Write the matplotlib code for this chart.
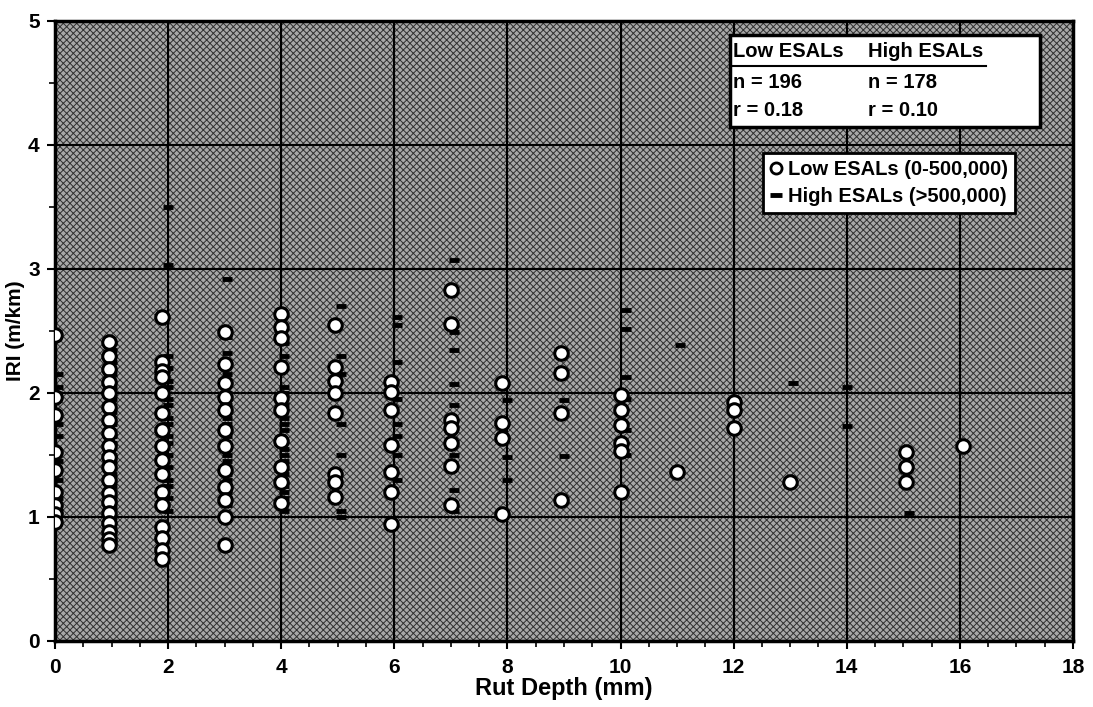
import numpy as np
import matplotlib
matplotlib.use("Agg")
import matplotlib.pyplot as plt
from matplotlib.patches import Rectangle
from matplotlib.lines import Line2D
from matplotlib.ticker import MultipleLocator

plt.rcParams['font.family'] = ['Liberation Sans Narrow', 'Liberation Sans', 'DejaVu Sans']
plt.rcParams['font.weight'] = 'bold'
plt.rcParams['hatch.linewidth'] = 0.7

# low ESALs (0-500,000): rut depth column -> IRI values
low_x = [0.0, 0.95, 1.9, 3.0, 4.0, 4.95, 5.95, 7.0, 7.9, 8.95, 10.0, 11.0, 12.0, 13.0, 15.05, 16.05]
low_iri = [
    [2.47, 1.97, 1.82, 1.52, 1.38, 1.2, 1.1, 1.02, 0.96],
    [2.41, 2.3, 2.19, 2.09, 2.0, 1.89, 1.78, 1.68, 1.57, 1.48, 1.4, 1.3, 1.19, 1.12, 1.03, 0.95, 0.88, 0.82, 0.77],
    [2.61, 2.25, 2.18, 2.13, 2.0, 1.84, 1.7, 1.57, 1.46, 1.35, 1.2, 1.1, 0.92, 0.83, 0.73, 0.66],
    [2.49, 2.23, 2.08, 1.97, 1.86, 1.7, 1.57, 1.38, 1.24, 1.14, 1.0, 0.77],
    [2.64, 2.53, 2.44, 2.21, 1.96, 1.86, 1.61, 1.4, 1.28, 1.11],
    [2.55, 2.21, 2.1, 2.0, 1.84, 1.35, 1.28, 1.16],
    [2.09, 2.01, 1.86, 1.58, 1.36, 1.2, 0.94],
    [2.83, 2.56, 1.78, 1.72, 1.6, 1.41, 1.1],
    [2.08, 1.76, 1.64, 1.02],
    [2.32, 2.16, 1.84, 1.14],
    [1.98, 1.86, 1.74, 1.6, 1.53, 1.2],
    [1.36],
    [1.93, 1.86, 1.72],
    [1.28],
    [1.52, 1.4, 1.28],
    [1.57],
]

# high ESALs (>500,000)
high_x = [0.05, 1.0, 2.0, 3.05, 4.05, 5.05, 6.05, 7.05, 8.0, 9.0, 10.1, 11.05, 13.05, 14.0, 15.1]
high_iri = [
    [2.15, 2.05, 1.75, 1.65, 1.45, 1.3, 1.15, 1.05],
    [2.4, 2.35, 2.25, 2.15, 2.05, 1.95, 1.85, 1.75, 1.65, 1.6, 1.5, 1.45, 1.35, 1.25, 1.15, 1.08, 1.0, 0.9, 0.8],
    [3.5, 3.03, 2.3, 2.2, 2.1, 2.05, 1.95, 1.9, 1.8, 1.75, 1.65, 1.6, 1.5, 1.4, 1.3, 1.25, 1.15, 1.05],
    [2.92, 2.45, 2.32, 2.15, 2.0, 1.9, 1.8, 1.75, 1.65, 1.5, 1.45, 1.35, 1.3, 1.2, 1.1],
    [2.4, 2.3, 2.05, 2.0, 1.9, 1.8, 1.75, 1.7, 1.55, 1.5, 1.45, 1.35, 1.25, 1.2, 1.15, 1.05],
    [2.7, 2.3, 2.15, 1.75, 1.5, 1.05, 1.0],
    [2.61, 2.55, 2.25, 1.95, 1.75, 1.65, 1.5, 1.3],
    [3.07, 2.49, 2.35, 2.07, 1.9, 1.5, 1.22, 1.05],
    [1.94, 1.48, 1.3],
    [1.94, 1.49],
    [2.67, 2.52, 2.13, 1.95, 1.7, 1.5],
    [2.39],
    [2.08],
    [2.05, 1.73],
    [1.03],
]

stats_low = ["Low ESALs", "n = 196", "r = 0.18"]
stats_high = ["High ESALs", "n = 178", "r = 0.10"]


def flatten(xs, ys):
    px, py = [], []
    for x, col in zip(xs, ys):
        for v in col:
            px.append(x)
            py.append(v)
    return np.array(px), np.array(py)


lx, ly = flatten(low_x, low_iri)
hx, hy = flatten(high_x, high_iri)

fig = plt.figure(figsize=(10.93, 7.07), dpi=100)
ax = fig.add_axes([0.0503, 0.0934, 0.9314, 0.8769])

ax.set_facecolor('#a8a8a8')
bg = Rectangle((0, 0), 1, 1, transform=ax.transAxes, facecolor='none',
               edgecolor='#303030', hatch='xxxxx', linewidth=0, zorder=0.5)
ax.add_patch(bg)

ax.set_xlim(0, 18)
ax.set_ylim(0, 5)
ax.xaxis.set_major_locator(MultipleLocator(2))
ax.xaxis.set_minor_locator(MultipleLocator(0.5))
ax.yaxis.set_major_locator(MultipleLocator(1))
ax.yaxis.set_minor_locator(MultipleLocator(0.5))
ax.grid(True, which='major', color='black', linewidth=1.5, zorder=1)
ax.set_axisbelow(False)
ax.tick_params(which='major', direction='out', length=6, width=1.5, labelsize=15)
ax.tick_params(axis='x', which='major', pad=6)
ax.tick_params(axis='y', which='major', pad=5)
ax.tick_params(which='minor', direction='out', length=4, width=1.2)
for sp in ax.spines.values():
    sp.set_linewidth(2.5)

ax.scatter(hx, hy, marker='_', s=60, linewidths=3.5, color='black', zorder=3)
ax.scatter(lx, ly, marker='o', s=95, facecolor='white', edgecolor='black',
           linewidths=2.2, zorder=4)

ax.set_xlabel('Rut Depth (mm)', fontsize=17, fontweight='bold', labelpad=0)
ax.set_ylabel('IRI (m/km)', fontsize=15, fontweight='bold')
ax.yaxis.set_label_coords(-0.029, 0.5)

# statistics box
ax.add_patch(Rectangle((0.663, 0.829), 0.305, 0.148, transform=ax.transAxes,
                       facecolor='white', edgecolor='black', linewidth=2.5, zorder=5))
rows_y = [0.951, 0.9, 0.855]
for i, y in enumerate(rows_y):
    ax.text(0.666, y, stats_low[i], transform=ax.transAxes, fontsize=14.5,
            fontweight='bold', va='center', zorder=6)
    ax.text(0.799, y, stats_high[i], transform=ax.transAxes, fontsize=14.5,
            fontweight='bold', va='center', zorder=6)
ax.add_line(Line2D([0.666, 0.915], [0.928, 0.928], transform=ax.transAxes,
                   color='black', linewidth=1.5, zorder=6))

handles = [
    Line2D([], [], marker='o', linestyle='none', markersize=8, markerfacecolor='white',
           markeredgecolor='black', markeredgewidth=2),
    Line2D([], [], marker='_', linestyle='none', markersize=8, markeredgewidth=3.5,
           color='black'),
]
leg = ax.legend(handles, ['Low ESALs (0-500,000)', 'High ESALs (>500,000)'],
                loc='upper right', bbox_to_anchor=(0.953, 0.803), frameon=True,
                fancybox=False, framealpha=1, edgecolor='black', fontsize=14.5,
                handlelength=0.6, handletextpad=0.3, borderpad=0.35, labelspacing=0.4)
leg.get_frame().set_linewidth(2)
leg.set_zorder(7)

fig.savefig('out.png', dpi=100)
